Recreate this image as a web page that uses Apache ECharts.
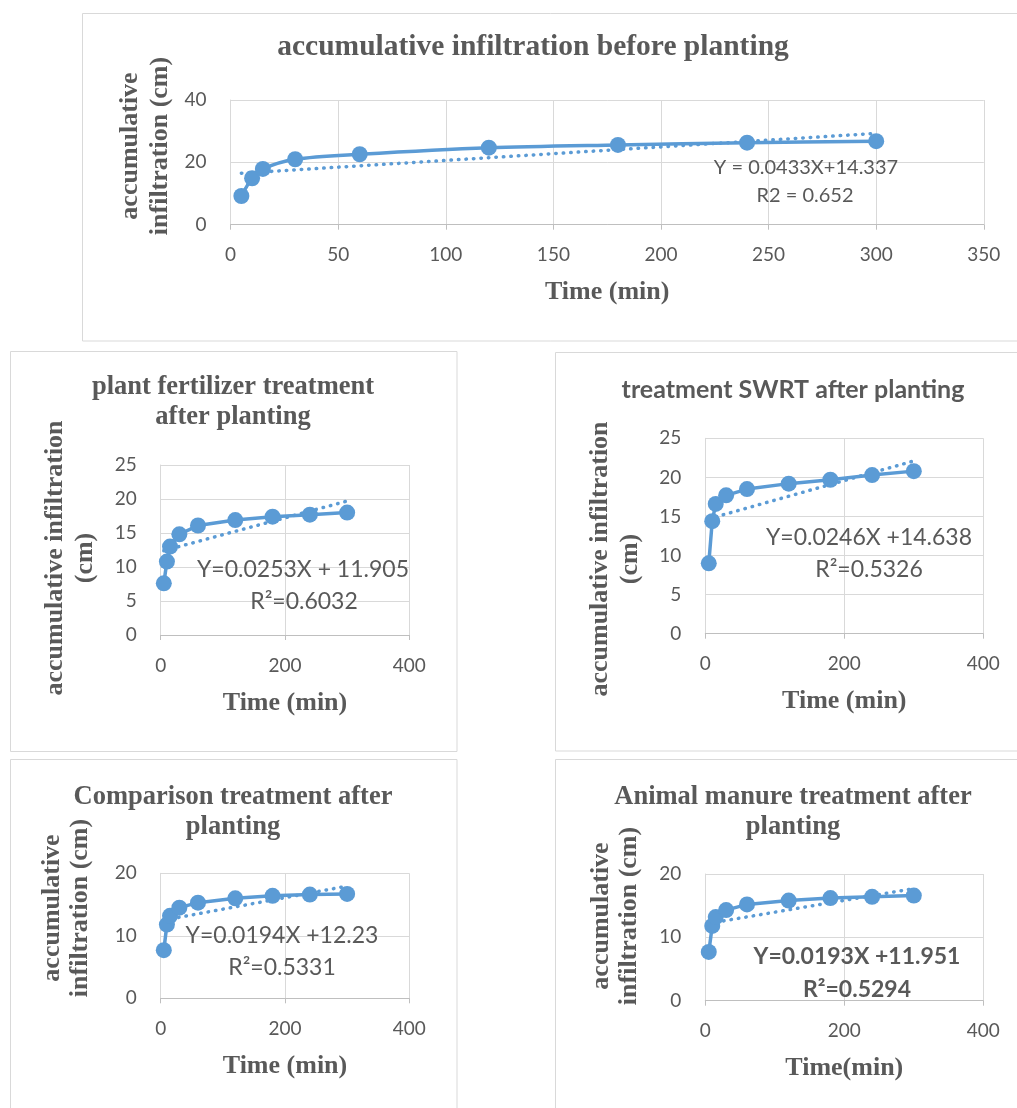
<!DOCTYPE html>
<html>
<head>
<meta charset="utf-8">
<script src="https://cdn.jsdelivr.net/npm/echarts@6/dist/echarts.min.js"></script>
<style>
  html, body { margin: 0; padding: 0; background: #fff; }
  #char { width: 1017px; height: 1108px; }
</style>
</head>
<body>
<div id="char"></div>
<script>
// time (min)
var time = [5, 10, 15, 30, 60, 120, 180, 240, 300];

// accumulative infiltration (cm)
var beforePlanting  = [9.2, 14.9, 17.9, 21.0, 22.6, 24.7, 25.6, 26.3, 26.8];
var plantFertilizer = [7.6, 10.8, 13.0, 14.8, 16.1, 16.9, 17.4, 17.7, 18.0];
var swrtTreatment   = [9.0, 14.4, 16.6, 17.7, 18.5, 19.2, 19.7, 20.3, 20.8];
var comparison      = [7.7, 11.8, 13.2, 14.5, 15.3, 16.0, 16.4, 16.6, 16.7];
var animalManure    = [7.7, 11.8, 13.2, 14.3, 15.2, 15.8, 16.2, 16.4, 16.6];

var trendX = [5, 300];
var trendBefore     = [16.5, 29.3];
var trendPlant      = [12.4, 19.7];
var trendSwrt       = [14.7, 22.1];
var trendComparison = [12.5, 17.95];
var trendManure     = [12.2, 17.7];

var BLUE = '#5B9BD5';
var GREY = '#595959';
var SERIF = '"Liberation Serif", "Times New Roman", serif';
var SANS = 'Lato, "Open Sans", sans-serif';

function pairs(xs, ys) {
    var out = [];
    for (var i = 0; i < xs.length; i++) out.push([xs[i], ys[i]]);
    return out;
}

var panels = [
    { grid: { left: 230.6, top: 100, width: 753.2, height: 124.7 },
      xMax: 350, xInt: 50, yMax: 40, yInt: 20, xName: 'Time (min)',
      data: beforePlanting, trend: trendBefore, smooth: true },
    { grid: { left: 160.7, top: 465, width: 248.6, height: 170 },
      xMax: 400, xInt: 200, yMax: 25, yInt: 5, xName: 'Time (min)',
      data: plantFertilizer, trend: trendPlant, smooth: false },
    { grid: { left: 705.3, top: 438.3, width: 278, height: 195.4 },
      xMax: 400, xInt: 200, yMax: 25, yInt: 5, xName: 'Time (min)',
      data: swrtTreatment, trend: trendSwrt, smooth: false },
    { grid: { left: 160.7, top: 873.3, width: 248.6, height: 125 },
      xMax: 400, xInt: 200, yMax: 20, yInt: 10, xName: 'Time (min)',
      data: comparison, trend: trendComparison, smooth: false },
    { grid: { left: 705.3, top: 874, width: 278, height: 126.7 },
      xMax: 400, xInt: 200, yMax: 20, yInt: 10, xName: 'Time(min)',
      data: animalManure, trend: trendManure, smooth: false }
];

function txt(x, y, text, font, rot, extra) {
    var el = {
        type: 'text', x: x, y: y, rotation: rot || 0, z: 100,
        style: { text: text, font: font, fill: GREY, align: 'center', verticalAlign: 'middle' }
    };
    if (extra) for (var k in extra) el.style[k] = extra[k];
    return el;
}

function box(x, y, w, h) {
    return { type: 'rect', z: 0, shape: { x: x, y: y, width: w, height: h },
             style: { fill: 'none', stroke: '#D9D9D9', lineWidth: 1 } };
}

var graphics = [
    box(82.5, 13.5, 950, 327.5),
    box(10.5, 351.5, 446.5, 400),
    box(555.5, 352.5, 480, 398.5),
    box(10.5, 759.5, 446.5, 400),
    box(555.5, 759.5, 480, 400),

    // titles
    txt(533, 47, 'accumulative infiltration before planting', 'bold 29.5px ' + SERIF),
    txt(233, 402, 'plant fertilizer treatment\nafter planting', 'bold 26.5px ' + SERIF, 0, { lineHeight: 30 }),
    txt(793, 390, 'treatment SWRT after planting', 'bold 25px ' + SANS),
    txt(233, 812, 'Comparison treatment after\nplanting', 'bold 26.5px ' + SERIF, 0, { lineHeight: 30 }),
    txt(793, 812, 'Animal manure treatment after\nplanting', 'bold 26.5px ' + SERIF, 0, { lineHeight: 30 }),

    // y axis names
    txt(145, 146, 'accumulative\ninfiltration (cm)', 'bold 26px ' + SERIF, Math.PI / 2, { lineHeight: 30 }),
    txt(70, 558, 'accumulative infiltration\n(cm)', 'bold 26px ' + SERIF, Math.PI / 2, { lineHeight: 30 }),
    txt(615, 559, 'accumulative infiltration\n(cm)', 'bold 26px ' + SERIF, Math.PI / 2, { lineHeight: 30 }),
    txt(66, 908, 'accumulative\ninfiltration (cm)', 'bold 26px ' + SERIF, Math.PI / 2, { lineHeight: 28 }),
    txt(615, 916, 'accumulative\ninfiltration (cm)', 'bold 26px ' + SERIF, Math.PI / 2, { lineHeight: 28 }),

    // trend equations
    txt(806, 168, 'Y = 0.0433X+14.337', '20px ' + SANS),
    txt(805, 196, 'R2 = 0.652', '20px ' + SANS),
    txt(303, 570, 'Y=0.0253X + 11.905', '23px ' + SANS),
    txt(304, 602, 'R\u00b2=0.6032', '23px ' + SANS),
    txt(869, 538, 'Y=0.0246X +14.638', '23px ' + SANS),
    txt(869, 570, 'R\u00b2=0.5326', '23px ' + SANS),
    txt(282, 936, 'Y=0.0194X +12.23', '23px ' + SANS),
    txt(282, 968, 'R\u00b2=0.5331', '23px ' + SANS),
    txt(857, 957, 'Y=0.0193X +11.951', 'bold 23px ' + SANS),
    txt(857, 990, 'R\u00b2=0.5294', 'bold 23px ' + SANS)
];

var option = {
    animation: false,
    backgroundColor: '#fff',
    grid: [], xAxis: [], yAxis: [], series: [],
    graphic: graphics
};

panels.forEach(function (p, i) {
    var g = p.grid;
    option.grid.push({ left: g.left, top: g.top, width: g.width, height: g.height,
                       containLabel: false, outerBoundsMode: 'none' });
    option.xAxis.push({
        type: 'value', gridIndex: i, min: 0, max: p.xMax, interval: p.xInt,
        axisLine: { show: true, lineStyle: { color: '#BFBFBF', width: 1 } },
        axisTick: { show: true, length: 5, lineStyle: { color: '#BFBFBF' } },
        splitLine: { show: true, lineStyle: { color: '#D9D9D9', width: 1 } },
        axisLabel: { color: GREY, fontFamily: SANS, fontSize: 19, margin: 21 },
        name: p.xName, nameLocation: 'middle', nameGap: 55,
        nameTextStyle: { color: GREY, fontFamily: SERIF, fontWeight: 'bold', fontSize: 26 }
    });
    option.yAxis.push({
        type: 'value', gridIndex: i, min: 0, max: p.yMax, interval: p.yInt,
        axisLine: { show: true, lineStyle: { color: '#D9D9D9', width: 1 } },
        axisTick: { show: false },
        splitLine: { show: true, lineStyle: { color: '#D9D9D9', width: 1 } },
        axisLabel: { color: GREY, fontFamily: SANS, fontSize: 19, margin: 24 }
    });
    option.series.push({
        type: 'line', xAxisIndex: i, yAxisIndex: i, z: 2,
        data: pairs(trendX, p.trend), symbol: 'none', silent: true,
        lineStyle: { color: BLUE, width: 3.5, type: [0.5, 7], cap: 'round' }
    });
    option.series.push({
        type: 'line', xAxisIndex: i, yAxisIndex: i, z: 3,
        data: pairs(time, p.data), smooth: p.smooth ? 0.3 : false,
        symbol: 'circle', symbolSize: 16,
        itemStyle: { color: BLUE },
        lineStyle: { color: BLUE, width: 3.5 }
    });
});

var chart = echarts.init(document.getElementById('char'));
chart.setOption(option);
</script>
</body>
</html>
